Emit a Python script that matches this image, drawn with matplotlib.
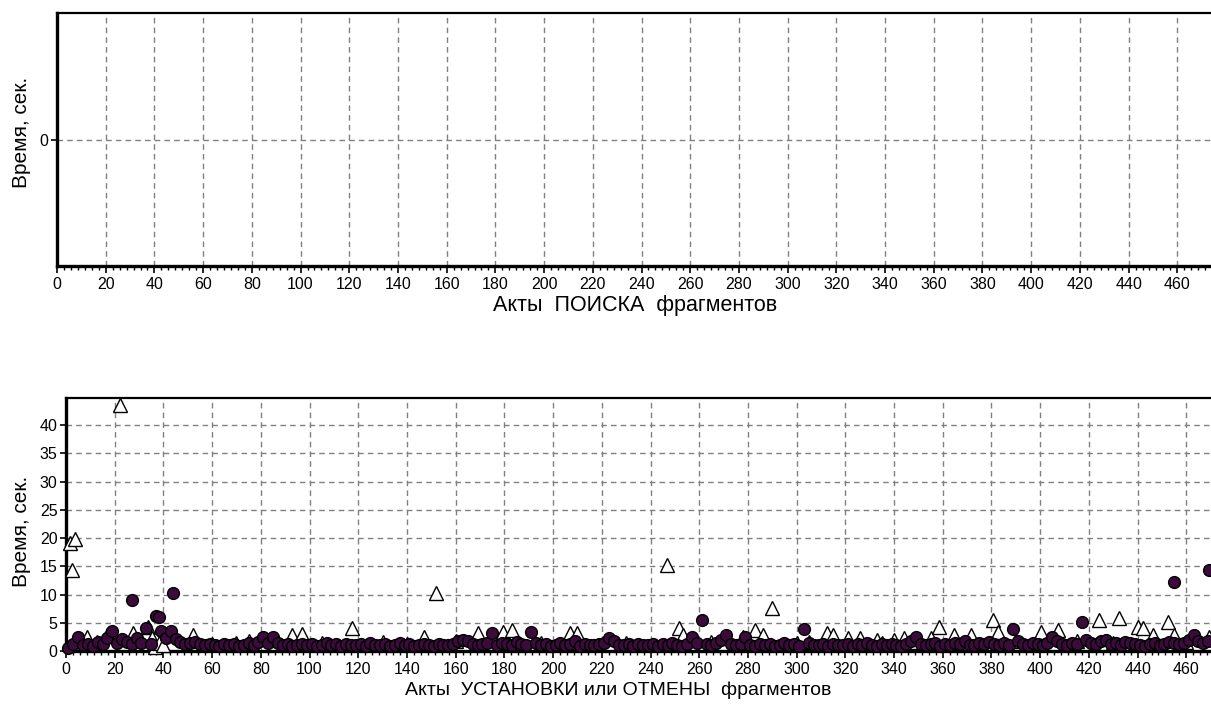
import numpy as np
import matplotlib
matplotlib.use("Agg")
import matplotlib.pyplot as plt
from matplotlib.ticker import MultipleLocator, AutoMinorLocator

plt.rcParams['font.family'] = ['Liberation Sans', 'DejaVu Sans']

# circles: set acts, one value per odd act number 1..469
circ_vals = [
    0.6, 1.2, 2.5, 1.0, 1.3, 0.9, 1.6, 1.2, 2.3, 3.6,
    1.5, 2.1, 1.6, 1.2, 2.3, 1.4, 4.1, 1.3, 6.2, 3.6,
    2.3, 3.5, 2.1, 1.6, 1.2, 1.5, 1.6, 1.3, 1.0, 1.2,
    1.1, 0.9, 1.2, 1.0, 1.3, 0.9, 1.1, 1.4, 1.0, 1.6,
    2.4, 1.5, 2.5, 1.4, 1.0, 1.2, 0.9, 1.1, 1.3, 1.0,
    1.2, 0.9, 1.1, 1.4, 1.0, 1.2, 0.9, 1.3, 1.1, 1.0,
    1.3, 0.9, 1.5, 1.1, 1.0, 1.2, 0.9, 1.1, 1.4, 1.0,
    1.2, 0.9, 1.0, 1.3, 1.1, 0.9, 1.2, 1.0, 1.1, 1.3,
    1.8, 2.0, 1.7, 1.2, 1.0, 1.3, 1.5, 3.2, 1.1, 1.4,
    1.2, 1.0, 1.6, 1.3, 1.1, 3.3, 1.4, 1.0, 1.2, 0.9,
    1.1, 1.4, 1.0, 1.2, 1.7, 0.9, 1.3, 1.1, 1.0, 1.2,
    1.4, 2.3, 1.8, 1.1, 1.0, 1.3, 0.9, 1.2, 1.0, 1.1,
    1.3, 0.9, 1.2, 1.0, 1.4, 1.1, 0.9, 1.2, 2.4, 1.5,
    5.5, 1.2, 1.0, 1.4, 1.9, 2.8, 1.3, 1.0, 1.2, 2.5,
    1.1, 0.9, 1.3, 1.0, 1.2, 0.9, 1.1, 1.4, 1.0, 1.2,
    0.9, 3.9, 1.5, 1.1, 1.0, 1.3, 0.9, 1.2, 1.0, 1.1,
    1.3, 0.9, 1.2, 1.0, 1.4, 1.1, 0.9, 1.2, 1.0, 1.3,
    1.1, 0.9, 1.2, 1.7, 2.4, 1.3, 1.0, 1.2, 1.5, 0.9,
    1.2, 1.0, 1.5, 1.3, 1.8, 1.1, 1.0, 1.4, 1.2, 1.6,
    1.3, 1.0, 1.4, 1.1, 3.9, 1.7, 1.2, 1.0, 1.5, 1.3,
    1.1, 1.5, 2.4, 1.8, 1.2, 1.0, 1.4, 1.3, 5.1, 1.9,
    1.5, 1.2, 1.7, 2.0, 1.3, 1.5, 1.0, 1.6, 1.4, 1.2,
    1.1, 0.9, 1.2, 1.4, 1.0, 1.3, 1.6, 1.5, 1.2, 1.5,
    1.9, 2.8, 1.7, 1.4, 1.8,
]
circ_acts = np.arange(1, 2 * len(circ_vals), 2)

# isolated set acts
circ_out_x = [27, 38, 44, 455, 469.5]
circ_out_y = [9.1, 6.1, 10.3, 12.3, 14.4]

# triangles: cancel acts
tri_x = [1.5, 3.5, 2.5, 22.2, 8.6, 12.7, 17, 27.5, 33.7, 35.3, 36.5, 38, 40,
         52, 60, 70, 75, 93, 97, 105, 117.5, 130, 140, 147, 152, 160, 169,
         179.5, 183, 195, 207, 210, 230, 246.8, 251.5, 253.5, 265, 278, 283,
         286, 290, 300, 305, 312.5, 315, 321, 326, 333, 335, 340, 344, 348,
         355, 358.5, 364.5, 371.7, 380.7, 382.8, 390, 400.4, 407.4, 415, 424,
         430, 432.4, 440, 442.3, 446.4, 452.6, 455, 460, 469.4]
tri_y = [19.2, 19.8, 14.4, 43.5, 2.5, 1.6, 2.8, 3.2, 4.2, 2.3, 0.7, 1.5, 1.0,
         2.8, 1.2, 1.4, 1.8, 2.8, 3.0, 1.5, 4.1, 1.6, 1.3, 2.5, 10.3, 1.7, 3.2,
         3.4, 3.7, 1.5, 3.2, 3.2, 1.4, 15.2, 4.1, 2.8, 1.6, 2.5, 3.7,
         2.8, 7.6, 1.5, 1.6, 3.2, 2.8, 2.3, 2.3, 2.0, 1.4, 2.0, 2.3, 1.6,
         2.3, 4.3, 2.8, 2.8, 5.5, 3.4, 1.8, 3.4, 3.7, 1.7, 5.5,
         1.5, 5.8, 4.2, 4.0, 2.8, 5.1, 2.8, 1.6, 2.5]

x_ticks = np.arange(0, 461, 20)
xmax = 480
W, H = 1211, 706
fig = plt.figure(figsize=(W / 100, H / 100), dpi=100)

# axes run past the right edge, the picture is cropped there
ax1 = fig.add_axes([57 / W, (H - 266) / H, 1169 / W, 253 / H])
ax2 = fig.add_axes([66 / W, (H - 651) / H, 1169 / W, 253 / H])

grid_kw = dict(color='#808080', linestyle=(0, (4, 3)), linewidth=1.0)

for ax in (ax1, ax2):
    ax.set_xlim(0, xmax)
    ax.set_xticks(x_ticks)
    ax.xaxis.set_minor_locator(AutoMinorLocator(7))
    ax.tick_params(axis='x', which='major', direction='out', length=5, width=1.2, labelsize=11.5, pad=3)
    ax.tick_params(axis='x', which='minor', direction='out', length=3, width=1)
    ax.tick_params(axis='y', which='major', direction='out', length=4, width=1.2, labelsize=11.5, pad=2)
    ax.spines['left'].set_linewidth(2.4)
    ax.spines['bottom'].set_linewidth(2.4)
    ax.spines['top'].set_linewidth(1.6)
    ax.spines['right'].set_visible(False)
    ax.grid(True, which='major', **grid_kw)
    ax.set_axisbelow(True)

# top panel: no data
ax1.set_ylim(-1, 1)
ax1.set_yticks([0])

# bottom panel
ax2.set_ylim(0, 44.8)
ax2.yaxis.set_major_locator(MultipleLocator(5))
ax2.plot(tri_x, tri_y, linestyle='none', marker='^', markersize=10,
         markerfacecolor='white', markeredgecolor='black', markeredgewidth=1.0,
         zorder=3)
ax2.plot(circ_acts, circ_vals, linestyle='none', marker='o', markersize=8.5,
         markerfacecolor='#3b0b3b', markeredgecolor='black', markeredgewidth=1.0,
         zorder=4)
ax2.plot(circ_out_x, circ_out_y, linestyle='none', marker='o', markersize=8.5,
         markerfacecolor='#3b0b3b', markeredgecolor='black', markeredgewidth=1.0,
         zorder=4)
# markers near zero sit over the axis line
for ln in ax2.lines:
    ln.set_clip_on(False)

fig.text(22 / W, 1 - 132 / H, 'Время, сек.', rotation=90, ha='center', va='center', fontsize=15)
fig.text(22 / W, 1 - 531 / H, 'Время, сек.', rotation=90, ha='center', va='center', fontsize=15)
fig.text(635 / W, 1 - 305 / H, 'Акты  ПОИСКА  фрагментов', ha='center', va='center', fontsize=15.5)
fig.text(618 / W, 1 - 690 / H, 'Акты  УСТАНОВКИ или ОТМЕНЫ  фрагментов', ha='center', va='center', fontsize=14)

fig.savefig('out.png', dpi=100)
